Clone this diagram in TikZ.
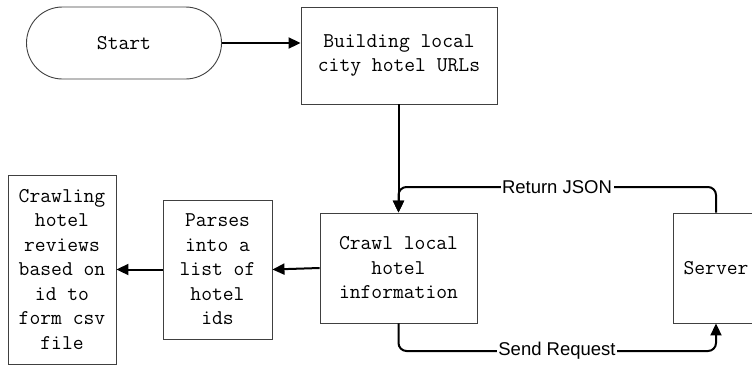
\documentclass[tikz,border=0pt]{standalone}
\usepackage{fontspec}
\newfontfamily\lblfont{Liberation Sans}
\usetikzlibrary{arrows.meta}
\tikzset{
  box/.style={draw=black!75, line width=0.9bp, align=center, inner sep=0pt,
    font=\ttfamily\fontsize{21bp}{24.5bp}\selectfont},
  conn/.style={line width=2bp, -{Triangle[length=12bp,width=11bp]}},
  lbl/.style={fill=white, inner sep=1.5bp, font=\lblfont\fontsize{18.5bp}{21bp}\selectfont}
}
\begin{document}
\begin{tikzpicture}[x=1bp,y=-1bp]
\clip (0,0) rectangle (752,365);
\node[box, rounded corners=36bp, minimum width=195bp, minimum height=72bp] (start) at (124,43) {Start};
\node[box, minimum width=196bp, minimum height=97bp] (build) at (399,55.5) {Building local\\city hotel URLs};
\node[box, minimum width=157bp, minimum height=110bp] (crawl) at (398.5,268) {Crawl local\\hotel\\information};
\node[box, minimum width=86bp, minimum height=110bp] (server) at (716,268) {Server};
\node[box, minimum width=109bp, minimum height=139bp] (parses) at (217.5,269.5) {Parses\\into a\\list of\\hotel\\ids};
\node[box, minimum width=108bp, minimum height=189bp] (reviews) at (62,269.5) {Crawling\\hotel\\reviews\\based on\\id to\\form csv\\file};
\coordinate (rj) at (557,187);
\coordinate (sr) at (557,351);
\draw[conn] (start.east) -- (start.east -| build.west);
\draw[conn] (build.south -| crawl.north) -- (crawl.north);
\draw[conn, rounded corners=8bp] (server.north) |- (rj) -| (crawl.north);
\draw[conn, rounded corners=8bp] (crawl.south) |- (sr) -| (server.south);
\node[lbl] (rjl) at (rj) {Return JSON};
\node[lbl] (srl) at (sr) {Send Request};
\draw[conn] (crawl.west) -- (parses.east);
\draw[conn] (parses.west) -- (reviews.east);
\end{tikzpicture}
\end{document}
